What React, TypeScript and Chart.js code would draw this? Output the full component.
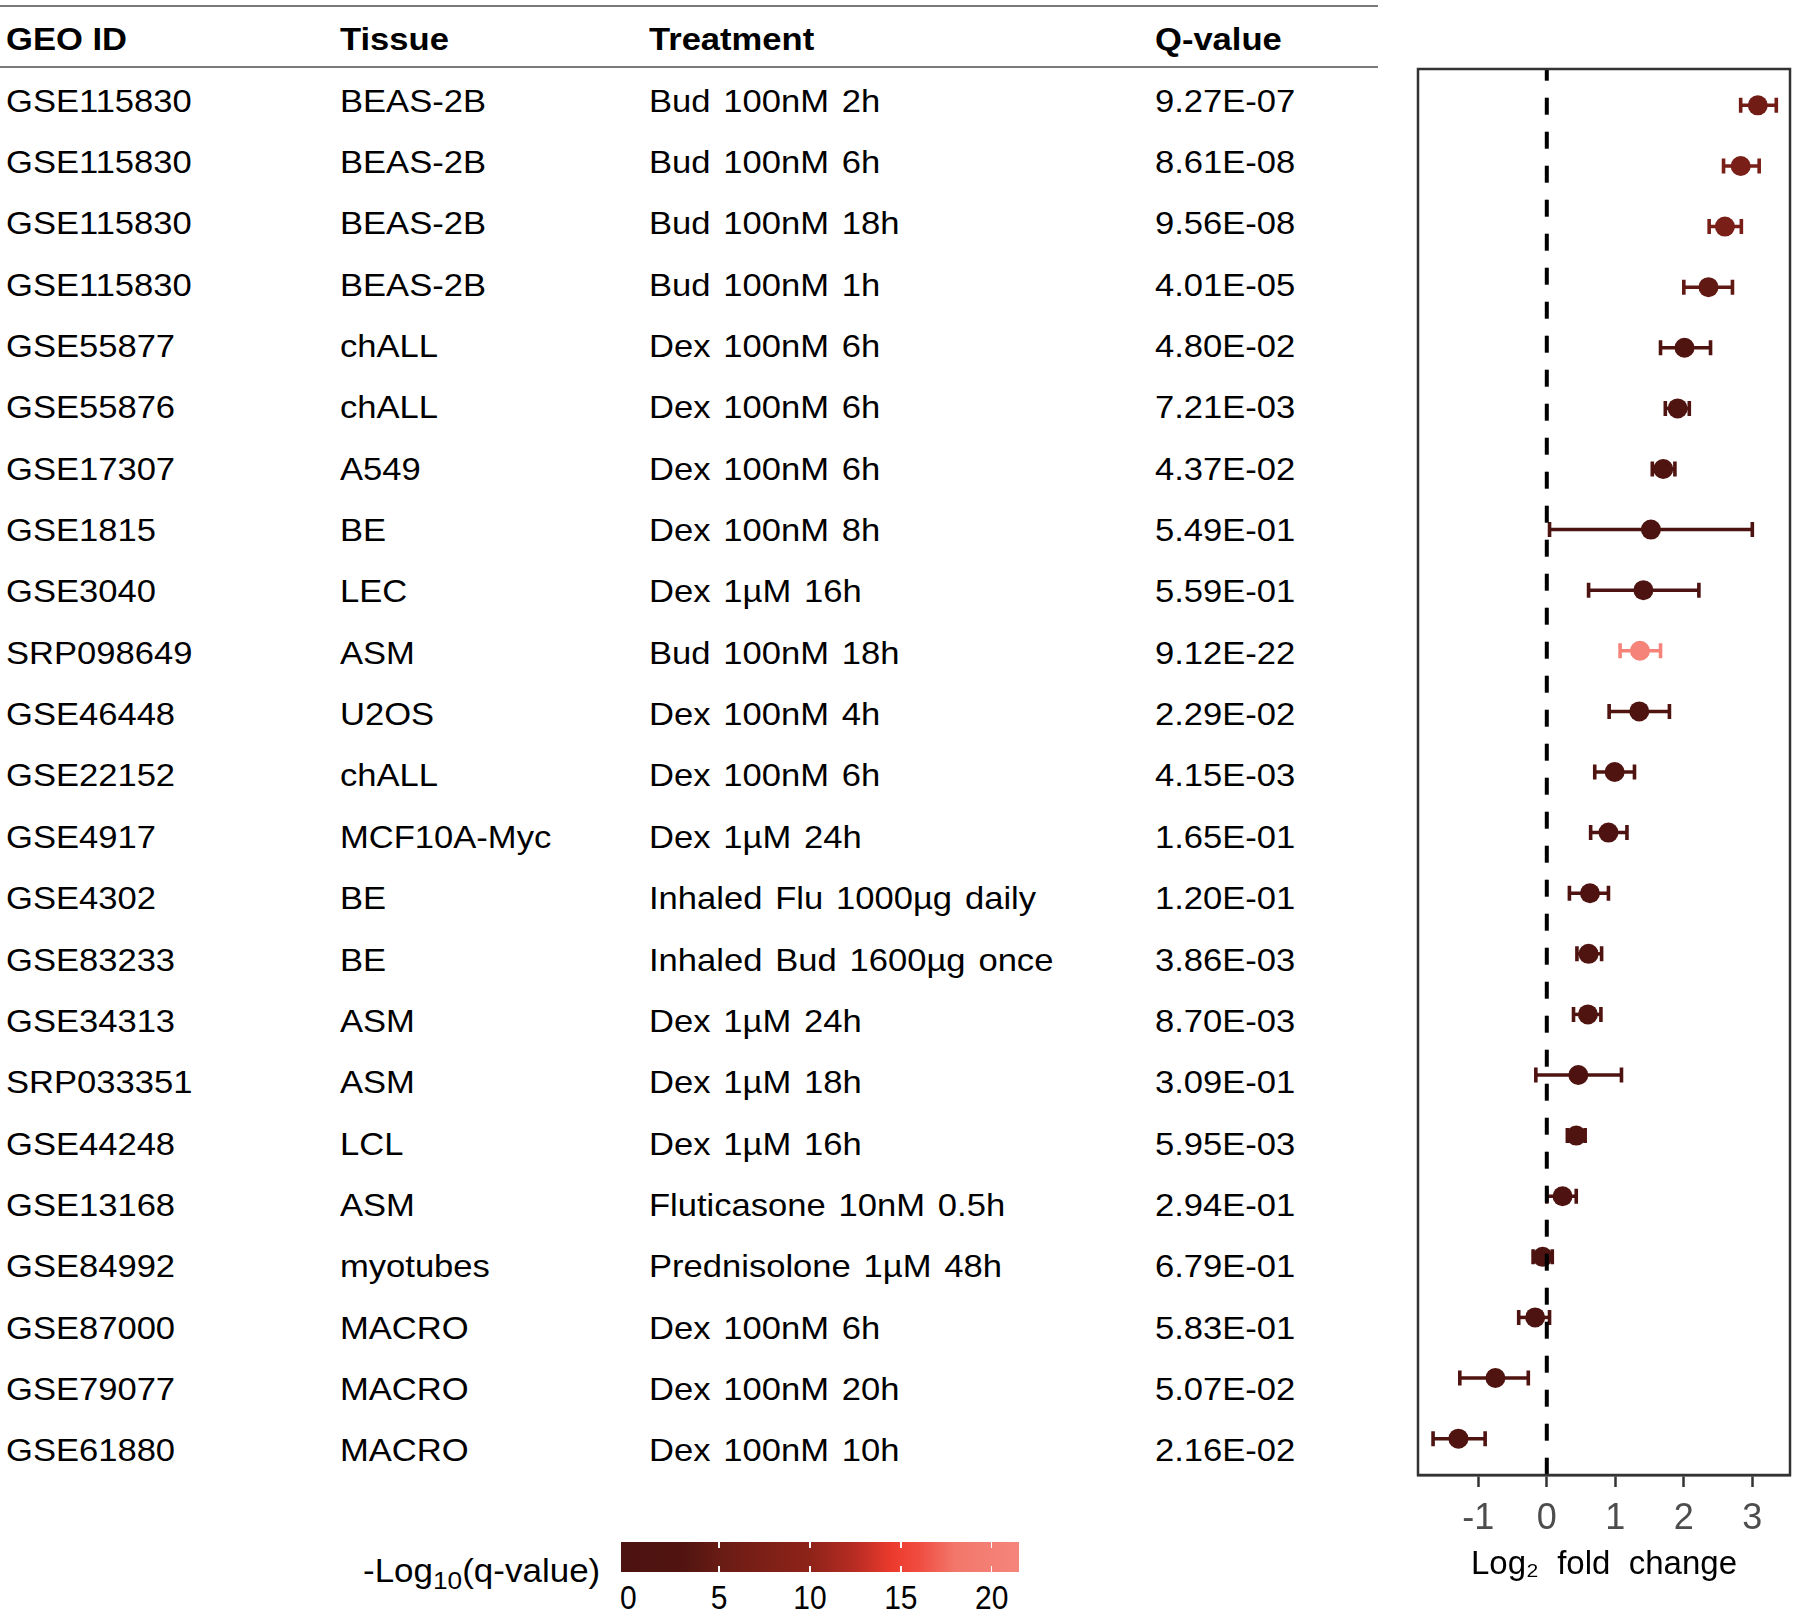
import React, { useEffect, useRef } from "react";
import { Chart, registerables } from "chart.js";

Chart.register(...registerables);

// ---------------- data ----------------
const headers = ["GEO ID", "Tissue", "Treatment", "Q-value"];
const geoIds = ["GSE115830", "GSE115830", "GSE115830", "GSE115830", "GSE55877", "GSE55876", "GSE17307", "GSE1815", "GSE3040", "SRP098649", "GSE46448", "GSE22152", "GSE4917", "GSE4302", "GSE83233", "GSE34313", "SRP033351", "GSE44248", "GSE13168", "GSE84992", "GSE87000", "GSE79077", "GSE61880"];
const tissues = ["BEAS-2B", "BEAS-2B", "BEAS-2B", "BEAS-2B", "chALL", "chALL", "A549", "BE", "LEC", "ASM", "U2OS", "chALL", "MCF10A-Myc", "BE", "BE", "ASM", "ASM", "LCL", "ASM", "myotubes", "MACRO", "MACRO", "MACRO"];
const treatments = ["Bud 100nM 2h", "Bud 100nM 6h", "Bud 100nM 18h", "Bud 100nM 1h", "Dex 100nM 6h", "Dex 100nM 6h", "Dex 100nM 6h", "Dex 100nM 8h", "Dex 1µM 16h", "Bud 100nM 18h", "Dex 100nM 4h", "Dex 100nM 6h", "Dex 1µM 24h", "Inhaled Flu 1000µg daily", "Inhaled Bud 1600µg once", "Dex 1µM 24h", "Dex 1µM 18h", "Dex 1µM 16h", "Fluticasone 10nM 0.5h", "Prednisolone 1µM 48h", "Dex 100nM 6h", "Dex 100nM 20h", "Dex 100nM 10h"];
const qValues = ["9.27E-07", "8.61E-08", "9.56E-08", "4.01E-05", "4.80E-02", "7.21E-03", "4.37E-02", "5.49E-01", "5.59E-01", "9.12E-22", "2.29E-02", "4.15E-03", "1.65E-01", "1.20E-01", "3.86E-03", "8.70E-03", "3.09E-01", "5.95E-03", "2.94E-01", "6.79E-01", "5.83E-01", "5.07E-02", "2.16E-02"];
const log2fc = [3.08, 2.83, 2.60, 2.36, 2.01, 1.91, 1.70, 1.52, 1.41, 1.36, 1.35, 0.99, 0.90, 0.63, 0.61, 0.60, 0.46, 0.43, 0.23, -0.06, -0.17, -0.75, -1.29];
const ciLow = [2.83, 2.58, 2.37, 2.00, 1.66, 1.73, 1.54, 0.04, 0.61, 1.07, 0.91, 0.70, 0.64, 0.33, 0.44, 0.39, -0.16, 0.30, 0.00, -0.20, -0.41, -1.27, -1.66];
const ciHigh = [3.35, 3.10, 2.84, 2.71, 2.39, 2.08, 1.87, 3.00, 2.22, 1.66, 1.79, 1.28, 1.17, 0.90, 0.80, 0.79, 1.09, 0.56, 0.43, 0.08, 0.04, -0.27, -0.90];
const xTicks = [-1, 0, 1, 2, 3];
const xRange = [-1.88, 3.55];
const colorbarTicks = [0, 5, 10, 15, 20];
const colorbarRange = [-0.4, 21.5];
const colorStops: [number, string][] = [
  [0, "#4d1310"], [3, "#511410"], [5, "#681b15"], [7.5, "#7d2017"], [10, "#8e2319"],
  [12.5, "#b82c23"], [14.5, "#ec3a2d"], [16, "#f04c40"], [18, "#f3776b"], [21.5, "#f5857b"],
];
const xTitle = "Log₂  fold  change";

// ---------------- helpers ----------------
const FONT = '"Liberation Sans", Arial, "DejaVu Sans", sans-serif';

function hexToRgb(h: string) {
  const n = parseInt(h.slice(1), 16);
  return [(n >> 16) & 255, (n >> 8) & 255, n & 255];
}
function colorFor(v: number) {
  if (v <= colorStops[0][0]) return colorStops[0][1];
  for (let i = 1; i < colorStops.length; i++) {
    const [v1, c1] = colorStops[i];
    const [v0, c0] = colorStops[i - 1];
    if (v <= v1) {
      const t = (v - v0) / (v1 - v0);
      const a = hexToRgb(c0), b = hexToRgb(c1);
      const m = a.map((x, k) => Math.round(x + (b[k] - x) * t));
      return `rgb(${m[0]},${m[1]},${m[2]})`;
    }
  }
  return colorStops[colorStops.length - 1][1];
}

type TxtProps = {
  x: number; y: number; size: number; bold?: boolean; sx?: number; sy?: number;
  align?: "left" | "center"; color?: string; ws?: number; children: React.ReactNode;
};
function Txt({ x, y, size, bold, sx = 1, sy = 1, align = "left", color = "#000", ws = 0, children }: TxtProps) {
  const lh = Math.round(size * 1.4);
  const centered = align === "center";
  return (
    <div
      style={{
        position: "absolute",
        left: centered ? x - 150 : x,
        width: centered ? 300 : undefined,
        top: y - lh / 2,
        height: lh,
        lineHeight: `${lh}px`,
        fontSize: size,
        fontWeight: bold ? 700 : 400,
        color,
        whiteSpace: "nowrap",
        textAlign: centered ? "center" : "left",
        wordSpacing: ws,
        transform: `scale(${sx}, ${sy})`,
        transformOrigin: centered ? "center center" : "left center",
      }}
    >
      {children}
    </div>
  );
}

// layout
const colX = [6, 340, 649, 1155];
const headerY = 39;
const row0Y = 101;
const rowStep = 61.36;
const ruleRight = 1378;
const cb = { left: 621, top: 1542, width: 398, height: 30 };

export default function App() {
  const canvasRef = useRef<HTMLCanvasElement>(null);

  useEffect(() => {
    const canvas = canvasRef.current!;
    const colors = qValues.map((q) => colorFor(-Math.log10(Number(q))));

    const errorBars = {
      id: "errorBars",
      beforeDatasetsDraw(chart: any) {
        const { ctx } = chart;
        const xs = chart.scales.x, ys = chart.scales.y;
        ctx.save();
        for (let i = 0; i < log2fc.length; i++) {
          const y = ys.getPixelForValue(i);
          const x1 = xs.getPixelForValue(ciLow[i]);
          const x2 = xs.getPixelForValue(ciHigh[i]);
          ctx.strokeStyle = colors[i];
          ctx.lineCap = "butt";
          ctx.lineWidth = 3.5;
          ctx.beginPath();
          ctx.moveTo(x1, y);
          ctx.lineTo(x2, y);
          ctx.stroke();
          ctx.lineWidth = 3.6;
          ctx.beginPath();
          ctx.moveTo(x1, y - 7.5);
          ctx.lineTo(x1, y + 7.5);
          ctx.moveTo(x2, y - 7.5);
          ctx.lineTo(x2, y + 7.5);
          ctx.stroke();
        }
        ctx.restore();
      },
    };

    const zeroLineAndFrame = {
      id: "zeroLineAndFrame",
      afterDatasetsDraw(chart: any) {
        const { ctx, chartArea } = chart;
        const x0 = chart.scales.x.getPixelForValue(0);
        ctx.save();
        ctx.strokeStyle = "#000";
        ctx.lineWidth = 4;
        ctx.setLineDash([17, 17]);
        ctx.lineDashOffset = 5.3;
        ctx.beginPath();
        ctx.moveTo(x0, chartArea.top);
        ctx.lineTo(x0, chartArea.bottom);
        ctx.stroke();
        ctx.setLineDash([]);
        ctx.strokeStyle = "#333";
        ctx.lineWidth = 2.5;
        ctx.strokeRect(chartArea.left, chartArea.top, chartArea.right - chartArea.left, chartArea.bottom - chartArea.top);
        ctx.restore();
      },
    };

    const chart = new Chart(canvas, {
      type: "scatter",
      data: {
        datasets: [
          {
            data: log2fc.map((v, i) => ({ x: v, y: i })),
            pointRadius: 10,
            pointHoverRadius: 10,
            pointBackgroundColor: colors,
            pointBorderWidth: 0,
            borderWidth: 0,
            showLine: false,
          },
        ],
      },
      options: {
        animation: false,
        responsive: false,
        devicePixelRatio: 1,
        layout: { padding: { left: 18, right: 7, top: 69, bottom: 0 } },
        plugins: { legend: { display: false }, tooltip: { enabled: false } },
        scales: {
          x: {
            type: "linear",
            min: xRange[0],
            max: xRange[1],
            afterBuildTicks: (s: any) => {
              s.ticks = xTicks.map((v) => ({ value: v }));
            },
            afterFit: (s: any) => {
              s.height = 143;
            },
            grid: {
              drawOnChartArea: false,
              drawTicks: true,
              tickLength: 12,
              tickWidth: 2.5,
              tickColor: "#333",
            },
            border: { display: true, color: "#333", width: 2.5 },
            ticks: {
              font: { family: FONT, size: 36, lineHeight: 1.2 },
              color: "#4d4d4d",
              padding: 10,
              maxRotation: 0,
              callback: (v: any) => String(v),
            },
            title: {
              display: true,
              text: xTitle,
              color: "#000",
              font: { family: FONT, size: 33, lineHeight: 1.2 },
              padding: { top: 0, bottom: 33 },
            },
          },
          y: {
            type: "linear",
            min: -0.6,
            max: log2fc.length - 1 + 0.6,
            reverse: true,
            display: false,
          },
        },
      },
      plugins: [errorBars, zeroLineAndFrame],
    } as any);

    return () => chart.destroy();
  }, []);

  const cbSpan = colorbarRange[1] - colorbarRange[0];
  const cbPct = (v: number) => ((v - colorbarRange[0]) / cbSpan) * 100;
  const gradient = `linear-gradient(to right, ${colorStops
    .map(([v, c]) => `${c} ${cbPct(v).toFixed(2)}%`)
    .join(", ")})`;

  const rows = [geoIds, tissues, treatments, qValues];

  return (
    <div
      style={{
        position: "absolute",
        left: 0,
        top: 0,
        width: 1800,
        height: 1618,
        background: "#fff",
        fontFamily: FONT,
        overflow: "hidden",
      }}
    >
      {/* table rules */}
      <div style={{ position: "absolute", left: 0, top: 5, width: ruleRight, height: 2, background: "#7a7a7a" }} />
      <div style={{ position: "absolute", left: 0, top: 66, width: ruleRight, height: 2, background: "#7a7a7a" }} />

      {headers.map((h, c) => (
        <Txt key={"h" + c} x={colX[c]} y={headerY} size={32} bold sx={1.08}>
          {h}
        </Txt>
      ))}
      {geoIds.map((_, i) =>
        rows.map((col, c) => (
          <Txt key={`r${i}c${c}`} x={colX[c]} y={row0Y + rowStep * i} size={32} sx={1.08} ws={3}>
            {col[i]}
          </Txt>
        ))
      )}

      <canvas
        ref={canvasRef}
        width={400}
        height={1618}
        style={{ position: "absolute", left: 1400, top: 0, width: 400, height: 1618 }}
      />

      {/* colour legend */}
      <Txt x={363} y={1571} size={33} sx={1.06}>
        -Log<span style={{ fontSize: "0.75em", verticalAlign: "-0.3em", lineHeight: 0 }}>10</span>(q-value)
      </Txt>
      <div
        style={{
          position: "absolute",
          left: cb.left,
          top: cb.top,
          width: cb.width,
          height: cb.height,
          background: gradient,
        }}
      >
        {colorbarTicks
          .filter((v) => v > 0)
          .map((v) => (
            <React.Fragment key={"cbt" + v}>
              <div style={{ position: "absolute", left: (cbPct(v) / 100) * cb.width - 0.75, top: 0, width: 1.5, height: 6, background: "#fff" }} />
              <div style={{ position: "absolute", left: (cbPct(v) / 100) * cb.width - 0.75, top: cb.height - 6, width: 1.5, height: 6, background: "#fff" }} />
            </React.Fragment>
          ))}
      </div>
      {colorbarTicks.map((v) => (
        <Txt key={"cbl" + v} x={cb.left + (cbPct(v) / 100) * cb.width} y={1598} size={30} sy={1.12} align="center">
          {String(v)}
        </Txt>
      ))}
    </div>
  );
}
